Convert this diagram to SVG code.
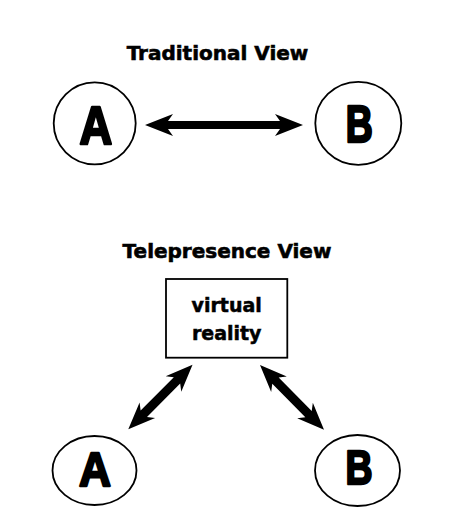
<svg xmlns="http://www.w3.org/2000/svg" width="474" height="514" viewBox="0 0 474 514">
<style>
.title{font-family:"DejaVu Sans",sans-serif;font-weight:bold;font-size:20px;text-anchor:middle;fill:#000;stroke:#000;stroke-width:0.6}
.label{font-family:"DejaVu Sans",sans-serif;font-weight:bold;font-size:19px;text-anchor:middle;fill:#000;stroke:#000;stroke-width:0.5}
.letter{font-family:"Liberation Sans",Arial,sans-serif;font-weight:bold;text-anchor:middle;fill:#000;stroke:#000;stroke-width:2.6;stroke-linejoin:round}
.shape{fill:#fff;stroke:#000;stroke-width:1.8}
.arrow{fill:#000;stroke:none}
</style>
<rect x="0" y="0" width="474" height="514" fill="#fff"/>
<text class="title" x="217.5" y="60">Traditional View</text>
<text class="title" x="227" y="258">Telepresence View</text>
<g id="connectors">
<path class="arrow" transform="translate(145,125)" d="M0,0 L28,-11 L23,-4 L135,-4 L130,-11 L158,0 L130,11 L135,4 L23,4 L28,11 Z"/>
<path class="arrow" transform="translate(128.3,429.3) rotate(-45.1)" d="M0,0 L27,-11 L22,-4.5 L69,-4.5 L64,-11 L91,0 L64,11 L69,4.5 L22,4.5 L27,11 Z"/>
<path class="arrow" transform="translate(260,365) rotate(45.3)" d="M0,0 L27,-11 L22,-4.5 L69,-4.5 L64,-11 L91,0 L64,11 L69,4.5 L22,4.5 L27,11 Z"/>
</g>
<g id="nodeA1">
<circle class="shape" cx="94.7" cy="123.3" r="41"/>
<text class="letter" font-size="54" transform="translate(95.8,143.8) scale(0.84,1)" x="0" y="0">A</text>
</g>
<g id="nodeB1">
<ellipse class="shape" cx="358.3" cy="123.3" rx="43" ry="41.5"/>
<text class="letter" font-size="52" transform="translate(359.2,142.2) scale(0.72,1)" x="0" y="0">B</text>
</g>
<g id="nodeVR">
<rect class="shape" x="166" y="279" width="121.3" height="78.7"/>
<text class="label" x="226.7" y="311.7">virtual</text>
<text class="label" x="226.7" y="340">reality</text>
</g>
<g id="nodeA2">
<ellipse class="shape" cx="94.5" cy="470.5" rx="42" ry="34.5"/>
<text class="letter" font-size="54" transform="translate(95,485.6) scale(0.82,0.9)" x="0" y="0">A</text>
</g>
<g id="nodeB2">
<ellipse class="shape" cx="357.5" cy="470.5" rx="42.5" ry="35.5"/>
<text class="letter" font-size="52" transform="translate(359,484) scale(0.72,0.93)" x="0" y="0">B</text>
</g>
</svg>
